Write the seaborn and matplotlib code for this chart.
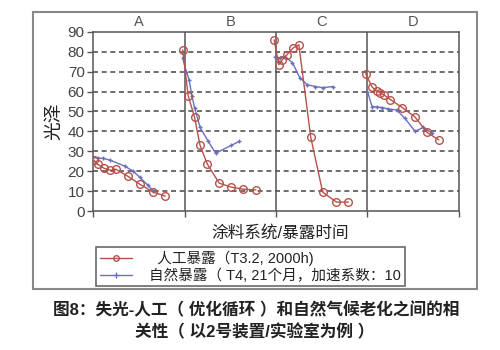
import matplotlib
matplotlib.use("Agg")
import matplotlib.pyplot as plt
from matplotlib.lines import Line2D
from matplotlib.patches import Rectangle
import seaborn as sns
import pandas as pd

sns.set_theme(style="white")
plt.rcParams["font.family"] = ["Liberation Sans", "Noto Sans CJK SC", "DejaVu Sans"]

# Coating systems (one panel each along the x axis)
systems = ["A", "B", "C", "D"]
y_ticks = [0, 10, 20, 30, 40, 50, 60, 70, 80, 90]

# Artificial exposure (T3.2, 2000h): position along the panel row, gloss
art_A_x = [0.01, 0.05, 0.12, 0.19, 0.25, 0.38, 0.51, 0.66, 0.79]
art_A_y = [25.5, 23.5, 21.5, 20.5, 21.0, 17.5, 13.5, 9.5, 7.5]
art_B_x = [0.98, 1.04, 1.11, 1.17, 1.25, 1.38, 1.51, 1.64, 1.78]
art_B_y = [81.0, 58.0, 47.0, 33.0, 23.5, 14.0, 12.0, 11.0, 10.6]
art_C_x = [1.98, 2.03, 2.07, 2.12, 2.19, 2.25, 2.38, 2.51, 2.66, 2.79]
art_C_y = [86.0, 73.5, 76.0, 78.5, 82.0, 83.5, 37.0, 9.5, 4.5, 4.5]
art_D_x = [2.98, 3.05, 3.10, 3.14, 3.18, 3.25, 3.38, 3.52, 3.65, 3.78]
art_D_y = [69.0, 62.3, 60.3, 59.3, 58.3, 56.0, 52.0, 47.2, 39.5, 35.7]

# Natural exposure (T4, 21 months, acceleration factor 10)
nat_A_x = [0.00, 0.055, 0.11, 0.19, 0.35, 0.44, 0.51, 0.60, 0.66]
nat_A_y = [27.0, 26.5, 26.5, 25.5, 22.5, 20.0, 17.0, 13.0, 10.0]
nat_B_x = [0.98, 1.02, 1.05, 1.08, 1.11, 1.17, 1.26, 1.34, 1.51, 1.60]
nat_B_y = [77.0, 70.0, 66.0, 58.0, 52.0, 42.0, 35.0, 29.0, 33.0, 35.0]
nat_C_x = [1.99, 2.04, 2.10, 2.18, 2.26, 2.34, 2.43, 2.51, 2.62]
nat_C_y = [77.5, 77.0, 77.5, 74.5, 67.0, 63.5, 62.5, 62.0, 62.5]
nat_D_x = [3.00, 3.05, 3.10, 3.16, 3.22, 3.32, 3.41, 3.52, 3.61, 3.71]
nat_D_y = [60.0, 52.5, 52.3, 52.0, 51.3, 50.8, 46.5, 40.0, 42.0, 39.0]

art_label = "人工暴露（T3.2, 2000h)"
nat_label = "自然暴露（ T4, 21个月，加速系数：10"

red = "#b5524b"
blue = "#6b6fbf"

rows = []
for panel, xs, ys in zip(systems, [art_A_x, art_B_x, art_C_x, art_D_x],
                          [art_A_y, art_B_y, art_C_y, art_D_y]):
    rows += [dict(series="art", panel=panel, x=a, y=b) for a, b in zip(xs, ys)]
for panel, xs, ys in zip(systems, [nat_A_x, nat_B_x, nat_C_x, nat_D_x],
                          [nat_A_y, nat_B_y, nat_C_y, nat_D_y]):
    rows += [dict(series="nat", panel=panel, x=a, y=b) for a, b in zip(xs, ys)]
df = pd.DataFrame(rows)

fig = plt.figure(figsize=(5, 3.5), dpi=100)
ax = fig.add_axes([0.186, 0.397, 0.732, 0.512])

# grid lines first so the curves sit on top
for v in y_ticks[1:-1]:
    ax.axhline(v, color="#555555", lw=1.2, ls=(0, (3, 2.2)), zorder=1)
for v in [1, 2, 3]:
    ax.axvline(v, color="#555555", lw=1.1, zorder=1)

for key, color, marker, ms, mew, mfc in [("nat", blue, "+", 3.5, 1.0, blue),
                                         ("art", red, "o", 5.5, 1.0, "none")]:
    sub = df[df.series == key]
    for panel in systems:
        part = sub[sub.panel == panel]
        sns.lineplot(data=part, x="x", y="y", ax=ax, color=color, lw=1.0,
                     marker=marker, markersize=ms, markeredgewidth=mew,
                     markerfacecolor=mfc, markeredgecolor=color,
                     estimator=None, sort=False, zorder=3, legend=False)

ax.set_xlim(0, 4)
ax.set_ylim(0, 90)
ax.set_yticks(y_ticks)
ax.set_yticklabels([str(v) for v in y_ticks], fontsize=11, color="#444444")
ax.set_xticks([0, 1, 2, 3, 4])
ax.set_xticklabels([])
ax.tick_params(axis="y", length=4, width=1, color="#555555", left=True, pad=2)
ax.tick_params(axis="x", length=4, width=1, color="#555555", bottom=True)
ax.set_xlabel("")
ax.set_ylabel("光泽", fontsize=13.5, color="#222222", labelpad=3)
for s in ax.spines.values():
    s.set_color("#555555")
    s.set_linewidth(1.1)

# panel titles above each column
for i, name in enumerate(systems):
    ax.text(i + 0.5, 91.3, name, ha="center", va="bottom", fontsize=10.5,
            color="#555555")

fig.text(0.56, 0.335, "涂料系统/暴露时间", ha="center", va="center",
         fontsize=12, color="#222222")

# outer chart frame
fig.patches.append(Rectangle((33 / 500, 1 - 289 / 350), 444 / 500, 277 / 350,
                             transform=fig.transFigure, fill=False,
                             edgecolor="#888888", lw=1.5, zorder=0))

handles = [
    Line2D([], [], color=red, lw=1.0, marker="o", markersize=4,
           markerfacecolor="none", markeredgecolor=red),
    Line2D([], [], color=blue, lw=1.0, marker="+", markersize=4),
]
leg = fig.legend(handles, ["  " + art_label, nat_label],
                 loc="upper left", bbox_to_anchor=(96 / 500, 1 - 247 / 350),
                 fontsize=10.5, frameon=True, fancybox=False,
                 handlelength=2.2, handletextpad=1.2, borderpad=0.25,
                 labelspacing=0.15, borderaxespad=0)
leg.get_frame().set_edgecolor("#444444")
leg.get_frame().set_linewidth(1.2)
for t in leg.get_texts():
    t.set_color("#222222")

fig.text(0.512, 1 - 310 / 350, "图8：失光-人工（ 优化循环 ）和自然气候老化之间的相",
         ha="center", va="center", fontsize=12, fontweight="bold",
         color="#222222")
fig.text(0.51, 1 - 332 / 350, "关性（ 以2号装置/实验室为例 ）",
         ha="center", va="center", fontsize=12, fontweight="bold",
         color="#222222")

fig.savefig("out.png", dpi=100, facecolor="white")
